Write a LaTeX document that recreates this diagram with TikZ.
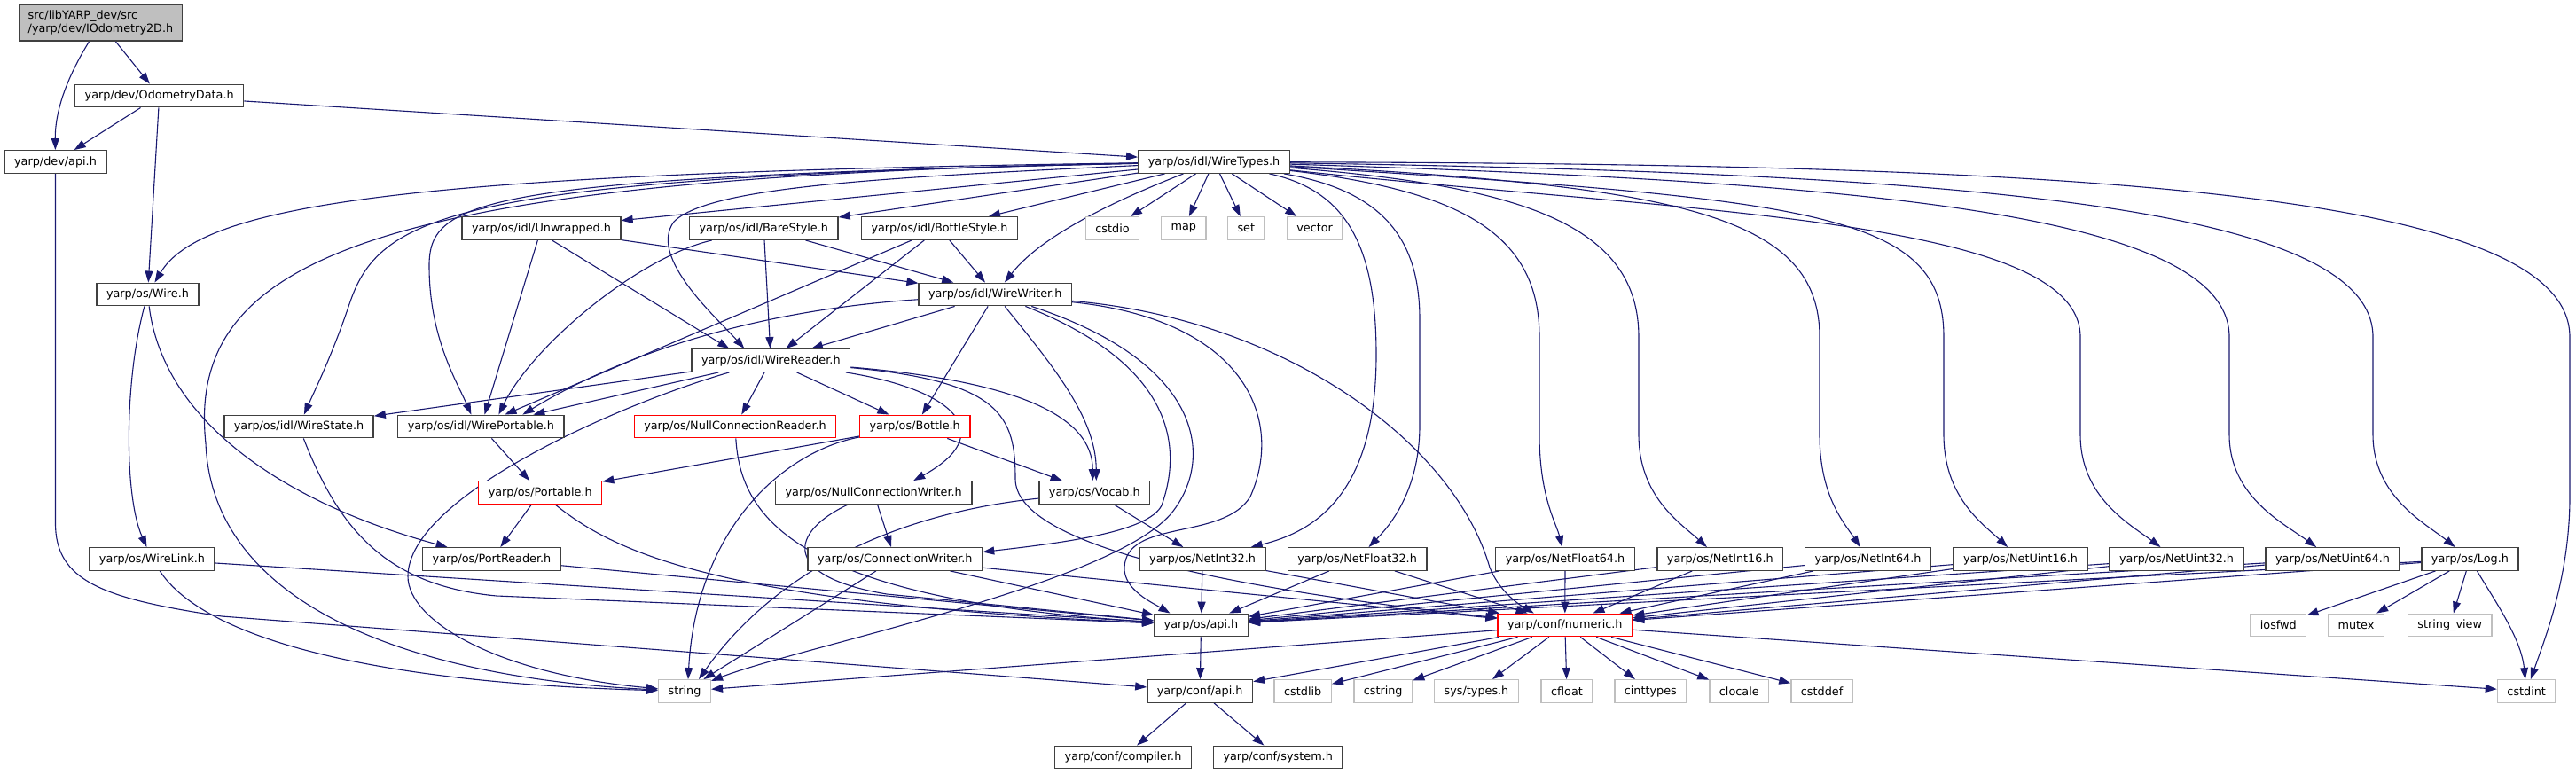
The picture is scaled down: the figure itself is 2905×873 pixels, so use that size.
\documentclass[tikz,border=0pt]{standalone}
\usepackage{fontspec}
\setmainfont{DejaVu Sans}
\usetikzlibrary{arrows.meta}
\definecolor{edgec}{HTML}{191970}
\definecolor{gdark}{HTML}{404040}
\definecolor{glight}{HTML}{BFBFBF}
\definecolor{nred}{HTML}{FF0000}
\newcommand\nodefont{\fontsize{12.8pt}{15pt}\selectfont}
\pgfdeclarelayer{bgl}
\pgfdeclarelayer{edgel}
\pgfsetlayers{bgl,edgel,main}
\begin{document}
\begin{tikzpicture}[x=1pt,y=-1pt,
  nbase/.style={rectangle, line width=1.4pt, fill=white, inner xsep=11pt, inner ysep=0pt, minimum height=25.5pt, font=\nodefont, text=black},
  nb/.style={nbase, draw=gdark},
  nr/.style={nbase, draw=nred},
  ng/.style={nbase, draw=glight},
  nroot/.style={nbase, draw=gdark, fill=glight, align=left, minimum height=40.5pt, inner xsep=10pt},
  edg/.style={draw=edgec, line width=1.1pt, -{Triangle[length=13pt,width=9pt]}}
]
\begin{pgfonlayer}{bgl}
\fill[white] (0,0) rectangle (2905,873);
\end{pgfonlayer}
\useasboundingbox (0,0) rectangle (2905,873);

% nodes
\node[nroot] (root) at (113.5,25.8) {src/libYARP\_dev/src\\/yarp/dev/IOdometry2D.h};
\node[nb] (odo) at (179.7,108) {yarp/dev/OdometryData.h};
\node[nb] (devapi) at (62.5,182.5) {yarp/dev/api.h};
\node[nb] (wt) at (1369,182.5) {yarp/os/idl/WireTypes.h};
\node[nb] (unw) at (610.5,257.5) {yarp/os/idl/Unwrapped.h};
\node[nb] (bare) at (861.3,257.5) {yarp/os/idl/BareStyle.h};
\node[nb] (bstyle) at (1059.5,257.5) {yarp/os/idl/BottleStyle.h};
\node[ng] (cstdio) at (1254.5,257.5) {cstdio};
\node[ng] (map) at (1334.8,257.5) {map};
\node[ng] (set) at (1405.3,257.5) {set};
\node[ng] (vector) at (1482.6,257.5) {vector};
\node[nb] (wire) at (166.5,332) {yarp/os/Wire.h};
\node[nb] (ww) at (1122.3,332) {yarp/os/idl/WireWriter.h};
\node[nb] (wr) at (869.3,406.5) {yarp/os/idl/WireReader.h};
\node[nb] (wstate) at (337,481) {yarp/os/idl/WireState.h};
\node[nb] (wport) at (542.4,481) {yarp/os/idl/WirePortable.h};
\node[nr] (ncr) at (829,481) {yarp/os/NullConnectionReader.h};
\node[nr] (bottle) at (1031.7,481) {yarp/os/Bottle.h};
\node[nr] (portable) at (609.2,555.5) {yarp/os/Portable.h};
\node[nb] (ncw) at (985.2,555.5) {yarp/os/NullConnectionWriter.h};
\node[nb] (vocab) at (1234.3,555.5) {yarp/os/Vocab.h};
\node[nb] (wlink) at (171.5,630.5) {yarp/os/WireLink.h};
\node[nb] (preader) at (554.5,630.5) {yarp/os/PortReader.h};
\node[nb] (cw) at (1009.3,630.5) {yarp/os/ConnectionWriter.h};
\node[nb] (ni32) at (1356.1,630.5) {yarp/os/NetInt32.h};
\node[nb] (nf32) at (1530.6,630.5) {yarp/os/NetFloat32.h};
\node[nb] (nf64) at (1765,630.5) {yarp/os/NetFloat64.h};
\node[nb] (ni16) at (1939.8,630.5) {yarp/os/NetInt16.h};
\node[nb] (ni64) at (2106.6,630.5) {yarp/os/NetInt64.h};
\node[nb] (nu16) at (2278.6,630.5) {yarp/os/NetUint16.h};
\node[nb] (nu32) at (2454.6,630.5) {yarp/os/NetUint32.h};
\node[nb] (nu64) at (2630.6,630.5) {yarp/os/NetUint64.h};
\node[nb] (log) at (2785.4,630.5) {yarp/os/Log.h};
\node[nb] (osapi) at (1354.5,705) {yarp/os/api.h};
\node[nr] (numeric) at (1764.8,705) {yarp/conf/numeric.h};
\node[ng] (iosfwd) at (2569.3,705) {iosfwd};
\node[ng] (mutex) at (2657,705) {mutex};
\node[ng] (strview) at (2762.7,705) {string\_view};
\node[ng] (string) at (772,779.5) {string};
\node[nb] (confapi) at (1353.2,779.5) {yarp/conf/api.h};
\node[ng] (cstdlib) at (1469.2,779.5) {cstdlib};
\node[ng] (cstring) at (1559.7,779.5) {cstring};
\node[ng] (systypes) at (1665,779.5) {sys/types.h};
\node[ng] (cfloat) at (1767,779.5) {cfloat};
\node[ng] (cinttypes) at (1861.3,779.5) {cinttypes};
\node[ng] (clocale) at (1961.3,779.5) {clocale};
\node[ng] (cstddef) at (2054.6,779.5) {cstddef};
\node[ng] (cstdint) at (2849.2,779.5) {cstdint};
\node[nb] (compiler) at (1266.5,854) {yarp/conf/compiler.h};
\node[nb] (system) at (1441.2,854) {yarp/conf/system.h};

\begin{pgfonlayer}{edgel}
% root / OdometryData / dev api
\draw[edg] (root) .. controls (80,80) and (62,120) .. (devapi);
\draw[edg] (root) -- (odo);
\draw[edg] (odo) -- (devapi);
\draw[edg] (odo) -- (wire);
\draw[edg] (odo) -- (wt);
\draw[edg] (devapi) -- (62.5,590) .. controls (62.5,655) and (115,675) .. (250,695) -- (confapi);
% Wire
\draw[edg] (wire) .. controls (140,430) and (140,560) .. (wlink);
\draw[edg] (wire) .. controls (185,480) and (330,570) .. (preader);
\draw[edg] (wlink) -- (osapi);
\draw[edg] (wlink) .. controls (230,720) and (420,770) .. (string);
\draw[edg] (preader) -- (osapi);
\draw[edg] (portable) -- (preader);
\draw[edg] (portable) .. controls (690,620) and (800,680) .. (osapi);
\draw[edg] (wport) -- (portable);
\draw[edg] (wstate) .. controls (380,590) and (430,660) .. (560,672) -- (osapi);
% WireTypes
\draw[edg] (wt) .. controls (500,195) and (230,225) .. (wire);
\draw[edg] (wt) .. controls (420,200) and (210,290) .. (232,500) .. controls (240,690) and (480,765) .. (string);
\draw[edg] (wt) .. controls (520,200) and (430,240) .. (395,340) .. controls (375,400) and (355,440) .. (wstate);
\draw[edg] (wt) .. controls (540,200) and (484,225) .. (484,300) .. controls (484,380) and (515,430) .. ([xshift=-11pt]wport.north);
\draw[edg] (wt) -- (unw);
\draw[edg] (wt) -- (bare);
\draw[edg] (wt) -- (bstyle);
\draw[edg] (wt) .. controls (1000,200) and (800,210) .. (760,250) .. controls (730,290) and (810,360) .. ([xshift=-30pt]wr.north);
\draw[edg] (wt) .. controls (1260,225) and (1175,265) .. (ww);
\draw[edg] (wt) -- (cstdio);
\draw[edg] (wt) -- (map);
\draw[edg] (wt) -- (set);
\draw[edg] (wt) -- (vector);
\draw[edg] (wt) .. controls (1520,215) and (1552,280) .. (1552,400) .. controls (1552,560) and (1480,600) .. (ni32);
\draw[edg] (wt) .. controls (1560,215) and (1601,270) .. (1601,360) -- (1601,480) .. controls (1601,560) and (1560,600) .. (nf32);
\draw[edg] (wt) .. controls (1650,215) and (1736,265) .. (1736,380) -- (1736,490) .. controls (1736,560) and (1755,590) .. (nf64);
\draw[edg] (wt) .. controls (1720,210) and (1848,255) .. (1848,380) -- (1848,490) .. controls (1848,560) and (1895,590) .. (ni16);
\draw[edg] (wt) .. controls (1900,210) and (2052,245) .. (2052,380) -- (2052,490) .. controls (2052,560) and (2080,590) .. (ni64);
\draw[edg] (wt) .. controls (2050,225) and (2192,240) .. (2192,380) -- (2192,490) .. controls (2192,560) and (2235,590) .. (nu16);
\draw[edg] (wt) .. controls (1900,240) and (2346,245) .. (2346,380) -- (2346,490) .. controls (2346,560) and (2400,590) .. (nu32);
\draw[edg] (wt) .. controls (2100,205) and (2514,240) .. (2514,380) -- (2514,490) .. controls (2514,560) and (2575,590) .. (nu64);
\draw[edg] (wt) .. controls (2200,195) and (2676,230) .. (2676,380) -- (2676,490) .. controls (2676,560) and (2735,590) .. (log);
\draw[edg] (wt) .. controls (2300,185) and (2898,210) .. (2898,380) -- (2898,560) .. controls (2898,650) and (2870,720) .. (cstdint);
% WireReader
\draw[edg] (wr) -- (wstate);
\draw[edg] (wr) -- (wport);
\draw[edg] (wr) -- (ncr);
\draw[edg] (wr) -- (bottle);
\draw[edg] (wr) .. controls (1080,440) and (1125,490) .. ([xshift=45pt]ncw.north);
\draw[edg] (wr) .. controls (1150,430) and (1232,470) .. ([xshift=-2pt]vocab.north);
\draw[edg] (wr) .. controls (700,455) and (460,560) .. (460,650) .. controls (460,700) and (560,760) .. (string);
\draw[edg] (wr) .. controls (1130,430) and (1145,470) .. (1145,540) .. controls (1145,610) and (1350,660) .. (numeric);
% WireWriter
\draw[edg] (ww) -- (wr);
\draw[edg] (ww) .. controls (850,350) and (700,400) .. ([xshift=47pt]wport.north);
\draw[edg] (ww) -- (bottle);
\draw[edg] (ww) .. controls (1185,410) and (1236,470) .. ([xshift=2pt]vocab.north);
\draw[edg] (ww) .. controls (1320,410) and (1335,500) .. (1310,570) .. controls (1295,600) and (1200,612) .. ([yshift=8pt]cw.east);
\draw[edg] (ww) .. controls (1360,410) and (1370,520) .. (1320,580) .. controls (1250,660) and (900,730) .. (string);
\draw[edg] (ww) .. controls (1400,360) and (1450,470) .. (1410,560) .. controls (1380,610) and (1270,585) .. (1268,640) .. controls (1267,665) and (1300,680) .. ([xshift=-35pt]osapi.north);
\draw[edg] (ww) .. controls (1450,360) and (1640,500) .. (1680,640) .. controls (1690,665) and (1710,680) .. ([xshift=-35pt]numeric.north);
% Unwrapped, BareStyle, BottleStyle
\draw[edg] (unw) -- (wport);
\draw[edg] ([xshift=12pt]unw.south) -- ([xshift=-47pt]wr.north);
\draw[edg] (unw) -- (ww);
\draw[edg] (bare) .. controls (720,290) and (600,390) .. ([xshift=20pt]wport.north);
\draw[edg] (bare) -- (wr);
\draw[edg] (bare) -- (ww);
\draw[edg] (bstyle) -- ([xshift=27pt]wport.north);
\draw[edg] (bstyle) -- (wr);
\draw[edg] (bstyle) -- (ww);
% Bottle, null connections, vocab
\draw[edg] (bottle) -- (portable);
\draw[edg] (bottle) -- (vocab);
\draw[edg] (bottle) .. controls (880,510) and (785,600) .. ([xshift=4pt]string.north);
\draw[edg] (ncr) .. controls (835,580) and (890,675) .. (osapi);
\draw[edg] (ncw) -- (cw);
\draw[edg] (ncw) .. controls (890,600) and (880,650) .. (1000,670) -- (osapi);
\draw[edg] (vocab) .. controls (1000,580) and (870,650) .. ([xshift=16pt]string.north);
\draw[edg] (vocab) -- (ni32);
% ConnectionWriter
\draw[edg] (cw) -- (osapi);
\draw[edg] (cw) -- (numeric);
\draw[edg] (cw) -- (string);
% Net* and Log
\foreach \n in {ni32,nf32,nf64,ni16,ni64,nu16,nu32,nu64,log}{
  \draw[edg] (\n) -- (osapi);
  \draw[edg] (\n) -- (numeric);
}
\draw[edg] (log) -- (iosfwd);
\draw[edg] (log) -- (mutex);
\draw[edg] (log) -- (strview);
\draw[edg] (log) .. controls (2815,680) and (2843,720) .. (cstdint);
% numeric
\foreach \n in {string,confapi,cstdlib,cstring,systypes,cfloat,cinttypes,clocale,cstddef,cstdint}{
  \draw[edg] (numeric) -- (\n);
}
% api chain
\draw[edg] (osapi) -- (confapi);
\draw[edg] (confapi) -- (compiler);
\draw[edg] (confapi) -- (system);
\end{pgfonlayer}
\end{tikzpicture}
\end{document}
